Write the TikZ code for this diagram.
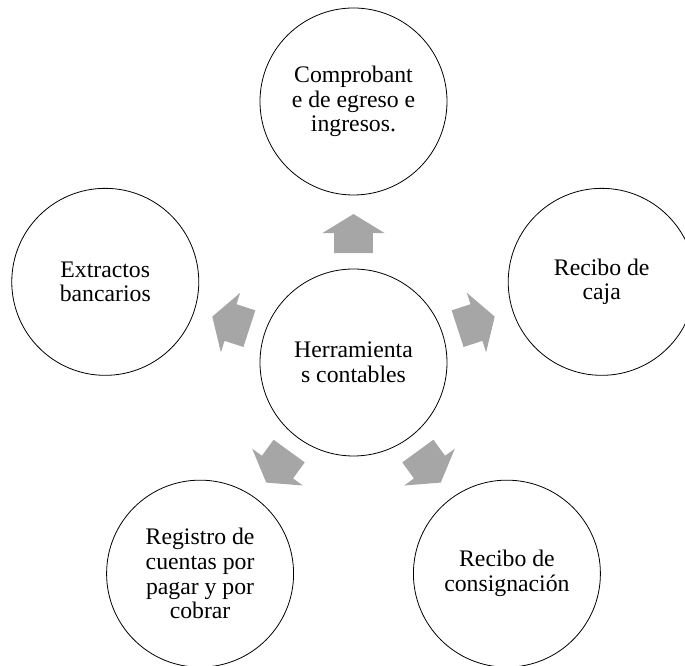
\documentclass[tikz,border=0pt]{standalone}
\usepackage{fontspec}
\setmainfont{Liberation Serif}
\usetikzlibrary{shapes.arrows}
\definecolor{hcgray}{RGB}{166, 166, 166}

\begin{document}
\begin{tikzpicture}[
    x=0.75pt, y=0.75pt,
    bubble/.style={circle, draw=black, fill=white, line width=0.6pt,
                   minimum size=140.25pt, inner sep=0pt, align=center,
                   font=\fontsize{17.8}{18.6}\selectfont},
    hubbubble/.style={bubble},
    flecha/.style={single arrow, fill=hcgray, draw=none, inner sep=0pt,
                   text height=28.5pt, text depth=0pt, text width=0pt,
                   minimum height=29.25pt, anchor=tail,
                   single arrow head extend=9pt, single arrow tip angle=117},
]

\def\rr{261}   % distance hub -> satellites
\def\ra{109.2} % distance hub -> arrow tails

% ================================================================
% PAGE (reference margins)
% ================================================================
\useasboundingbox (-353.5,-303.5) rectangle ++(685,666);

% ================================================================
% HUB
% ================================================================
\node[hubbubble] (hub) at (0,0) {Herramienta\\s contables};

% ================================================================
% SATELLITES
% ================================================================
\foreach \ang/\nm/\txt in {
  90/comprobante/{Comprobant\\e de egreso e\\ingresos.},
  18/caja/{Recibo de\\caja},
  -54/consignacion/{Recibo de\\consignación},
  -126/registro/{Registro de\\cuentas por\\pagar y por\\cobrar},
  162/extractos/{Extractos\\bancarios}} {
  \node[bubble] (\nm) at (\ang:\rr) {\txt};
}

% ================================================================
% BLOCK ARROWS (hub -> satellites)
% ================================================================
\foreach \ang [count=\i] in {90, 18, -54, -126, 162} {
  \node[flecha, rotate=\ang] (fl\i) at (\ang:\ra) {};
}

\end{tikzpicture}
\end{document}
